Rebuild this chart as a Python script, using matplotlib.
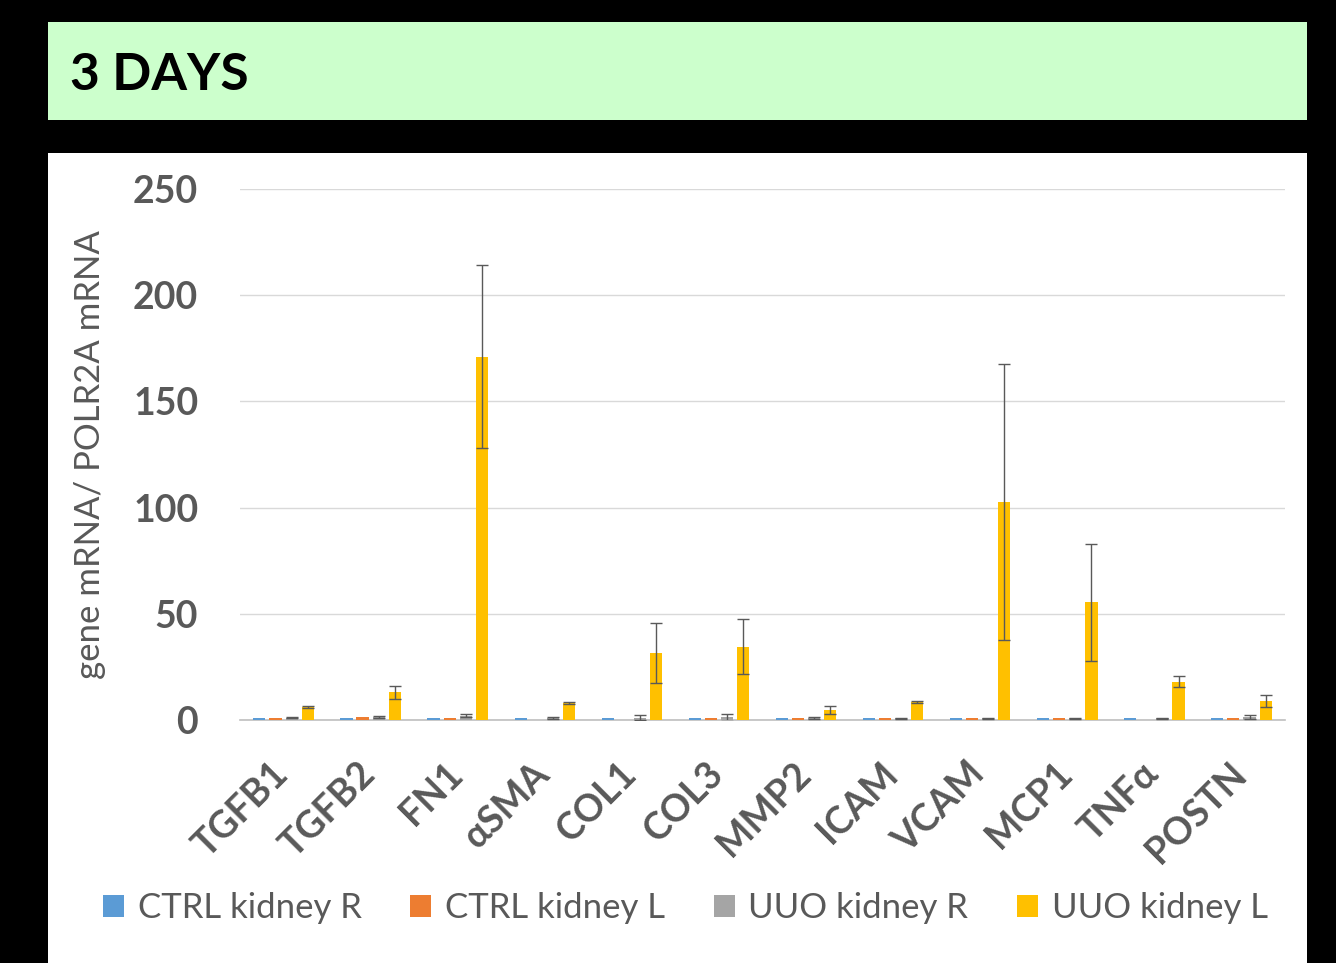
import numpy as np
import matplotlib.pyplot as plt
from matplotlib.patches import Rectangle

genes = ['TGFB1', 'TGFB2', 'FN1', 'αSMA', 'COL1', 'COL3', 'MMP2', 'ICAM', 'VCAM', 'MCP1', 'TNFα', 'POSTN']
series = ['CTRL kidney R', 'CTRL kidney L', 'UUO kidney R', 'UUO kidney L']
colors = ['#5B9BD5', '#ED7D31', '#A5A5A5', '#FFC000']

ctrl_r = [0.8, 0.8, 0.8, 0.8, 0.8, 0.8, 0.8, 0.8, 0.8, 0.8, 0.8, 0.8]
ctrl_l = [0.8, 1.3, 0.8, 0, 0, 0.8, 0.8, 0.8, 0.8, 0.8, 0, 0.8]
uuo_r = [1.1, 1.6, 2.1, 1.0, 1.0, 1.2, 1.0, 0.8, 0.8, 0.8, 0.8, 1.4]
uuo_l = [6.0, 13.0, 171.0, 8.0, 31.5, 34.5, 4.8, 8.5, 102.5, 55.5, 18.0, 9.0]

uuo_r_err = [0.3, 0.5, 0.6, 0.3, 1.2, 1.5, 0.3, 0.2, 0.2, 0.2, 0.2, 1.0]
uuo_l_err = [0.5, 3.0, 43.0, 0.7, 14.0, 13.0, 2.0, 0.5, 65.0, 27.5, 2.5, 3.0]

values = [ctrl_r, ctrl_l, uuo_r, uuo_l]
errors = [None, None, uuo_r_err, uuo_l_err]

plt.rcParams['font.family'] = ['Lato', 'DejaVu Sans']
fig = plt.figure(figsize=(13.36, 9.63), dpi=100, facecolor='black')

# title banner and white panel (behind the axes)
fig.patches.append(Rectangle((48 / 1336, 1 - 120 / 963), 1259 / 1336, 98 / 963, zorder=-5,
                             transform=fig.transFigure, facecolor='#CCFFCC', edgecolor='none'))
fig.patches.append(Rectangle((48 / 1336, 0), 1259 / 1336, 1 - 153 / 963, zorder=-5,
                             transform=fig.transFigure, facecolor='white', edgecolor='none'))
fig.text(70 / 1336, 1 - 76 / 963, '3 DAYS', fontsize=37, fontweight='bold', color='black',
         va='center', ha='left')

ax = fig.add_axes([240 / 1336, 1 - 720 / 963, 1045 / 1336, 531 / 963])
ax.set_facecolor('white')

x = np.arange(len(genes))
step = 0.185
width = 0.14
for i, (vals, err, c, name) in enumerate(zip(values, errors, colors, series)):
    pos = x + (i - 1.5) * step
    ax.bar(pos, vals, width=width, color=c, label=name, zorder=3)
    if err is not None:
        ax.errorbar(pos, vals, yerr=err, fmt='none', ecolor='#595959', elinewidth=1,
                    capsize=4, capthick=1, zorder=4)

ax.set_xlim(-0.5, len(genes) - 0.5)
ax.set_ylim(0, 250)
ax.set_yticks([0, 50, 100, 150, 200, 250])
ax.grid(axis='y', color='#D9D9D9', linewidth=1, zorder=0)
for s in ['top', 'right', 'left']:
    ax.spines[s].set_visible(False)
ax.spines['bottom'].set_color('#BFBFBF')
ax.spines['bottom'].set_linewidth(1.2)
ax.tick_params(axis='both', length=0, colors='#595959')
# ticks are hidden, labels sit a little left of the group centre like the original
ax.set_xticks(x - 0.15)
ax.set_xticklabels(genes, rotation=45, ha='right', rotation_mode='anchor',
                   fontsize=27, fontweight='bold', color='#595959')
for lab in ax.get_yticklabels():
    lab.set_fontsize(27)
    lab.set_fontweight('bold')
    lab.set_color('#595959')
ax.tick_params(axis='y', pad=30)
ax.tick_params(axis='x', pad=26)
ax.set_ylabel('gene mRNA/ POLR2A mRNA', fontsize=25, color='#595959')
ax.yaxis.set_label_coords(-0.128, 0.5)

fig.legend(loc='center', bbox_to_anchor=(0.513, 1 - 908 / 963), ncol=4, frameon=False,
           fontsize=25, labelcolor='#595959', handlelength=0.6, handleheight=0.6,
           handletextpad=0.4, columnspacing=1.4)

fig.savefig('out.png', dpi=100, facecolor='black')
